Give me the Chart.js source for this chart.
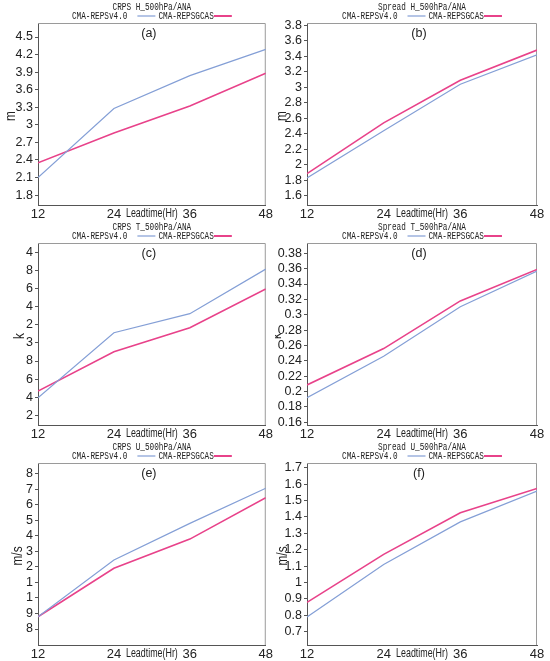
<!DOCTYPE html>
<html lang="en">
<head>
    <meta charset="UTF-8">
    <title>CRPS and Spread, 500hPa</title>
    <script src="https://cdn.jsdelivr.net/npm/chart.js"></script>
    <style>
        body { margin: 0; background: #fff; }
        #page { position: relative; width: 550px; height: 661px; background: #fff; }
        .panel { position: absolute; width: 275px; height: 220px; }
    </style>
</head>
<body>
    <div id="page">
        <div class="panel" style="left:0;top:0"><canvas id="pa"></canvas></div>
        <div class="panel" style="left:275px;top:0"><canvas id="pb"></canvas></div>
        <div class="panel" style="left:0;top:220px"><canvas id="pc"></canvas></div>
        <div class="panel" style="left:275px;top:220px"><canvas id="pd"></canvas></div>
        <div class="panel" style="left:0;top:440px"><canvas id="pe"></canvas></div>
        <div class="panel" style="left:275px;top:440px"><canvas id="pf"></canvas></div>
    </div>

    <script>
        // lead times (hours)
        const leadTimes = [12, 24, 36, 48];
        const seriesNames = ["CMA-REPSv4.0", "CMA-REPSGCAS"];

        // (a) CRPS H 500hPa
        const crpsH_v4 = [2.10, 3.28, 3.84, 4.29];
        const crpsH_gcas = [2.35, 2.86, 3.32, 3.88];
        const crpsH_ticks = [1.8, 2.1, 2.4, 2.7, 3.0, 3.3, 3.6, 3.9, 4.2, 4.5];
        const crpsH_labels = ["1.8", "2.1", "2.4", "2.7", "3", "3.3", "3.6", "3.9", "4.2", "4.5"];

        // (b) Spread H 500hPa
        const sprdH_v4 = [1.83, 2.44, 3.04, 3.42];
        const sprdH_gcas = [1.885, 2.54, 3.09, 3.48];
        const sprdH_ticks = [1.6, 1.8, 2.0, 2.2, 2.4, 2.6, 2.8, 3.0, 3.2, 3.4, 3.6, 3.8];
        const sprdH_labels = ["1.6", "1.8", "2", "2.2", "2.4", "2.6", "2.8", "3", "3.2", "3.4", "3.6", "3.8"];

        // (c) CRPS T 500hPa (values in tick units, labels as printed)
        const crpsT_v4 = [0.97, 4.56, 5.61, 8.07];
        const crpsT_gcas = [1.34, 3.51, 4.83, 6.97];
        const crpsT_ticks = [0, 1, 2, 3, 4, 5, 6, 7, 8, 9];
        const crpsT_labels = ["2", "4", "6", "8", "3", "2", "4", "6", "8", "4"];

        // (d) Spread T 500hPa
        const sprdT_v4 = [0.192, 0.246, 0.3105, 0.357];
        const sprdT_gcas = [0.2086, 0.256, 0.318, 0.359];
        const sprdT_ticks = [0.16, 0.18, 0.20, 0.22, 0.24, 0.26, 0.28, 0.30, 0.32, 0.34, 0.36, 0.38];
        const sprdT_labels = ["0.16", "0.18", "0.2", "0.22", "0.24", "0.26", "0.28", "0.3", "0.32", "0.34", "0.36", "0.38"];

        // (e) CRPS U 500hPa (values in tick units, labels as printed)
        const crpsU_v4 = [0.79, 4.44, 6.80, 9.06];
        const crpsU_gcas = [0.79, 3.91, 5.79, 8.45];
        const crpsU_ticks = [0, 1, 2, 3, 4, 5, 6, 7, 8, 9, 10];
        const crpsU_labels = ["8", "9", "1", "1", "2", "3", "4", "5", "6", "7", "8"];

        // (f) Spread U 500hPa
        const sprdU_v4 = [0.79, 1.11, 1.37, 1.558];
        const sprdU_gcas = [0.879, 1.172, 1.426, 1.574];
        const sprdU_ticks = [0.7, 0.8, 0.9, 1.0, 1.1, 1.2, 1.3, 1.4, 1.5, 1.6, 1.7];
        const sprdU_labels = ["0.7", "0.8", "0.9", "1", "1.1", "1.2", "1.3", "1.4", "1.5", "1.6", "1.7"];

        const BLUE = "#849fd6";
        const PINK = "#e8428a";
        const SANS = '"Liberation Sans", Arial, sans-serif';
        const MONO = '"Liberation Mono", "DejaVu Sans Mono", monospace';

        // squeezed text, stands in for the narrow fonts of the original
        function narrowText(ctx, text, x, y, sx) {
            ctx.save();
            ctx.translate(x, y);
            ctx.scale(sx, 1);
            ctx.fillText(text, 0, 0);
            ctx.restore();
        }

        // draws frame, titles, legend, panel letter and axis titles
        const decor = {
            id: "decor",
            beforeDatasetsDraw(chart) {
                const a = chart.chartArea, ctx = chart.ctx;
                ctx.save();
                ctx.strokeStyle = "#9a9a9a";
                ctx.lineWidth = 1;
                ctx.beginPath();
                ctx.moveTo(a.left, a.top + 0.5);
                ctx.lineTo(a.right - 0.5, a.top + 0.5);
                ctx.lineTo(a.right - 0.5, a.bottom);
                ctx.stroke();
                ctx.restore();
            },
            afterDraw(chart, args, o) {
                const a = chart.chartArea, ctx = chart.ctx;
                const cx = (a.left + a.right) / 2;
                ctx.save();
                ctx.fillStyle = "#222";
                ctx.textBaseline = "middle";

                // mono title and legend
                const sx = 0.7;
                ctx.font = "11px " + MONO;
                ctx.textAlign = "center";
                narrowText(ctx, o.title, cx, 7, sx);

                ctx.textAlign = "left";
                const w1 = ctx.measureText(seriesNames[0]).width * sx;
                const w2 = ctx.measureText(seriesNames[1]).width * sx;
                const total = w1 + 10 + 18 + 3 + w2 + 18;
                const x = cx - total / 2;
                const ly = 16;
                narrowText(ctx, seriesNames[0], x, ly, sx);
                narrowText(ctx, seriesNames[1], x + w1 + 31, ly, sx);
                ctx.lineWidth = 1.2;
                ctx.strokeStyle = BLUE;
                ctx.beginPath();
                ctx.moveTo(x + w1 + 10, ly);
                ctx.lineTo(x + w1 + 28, ly);
                ctx.stroke();
                ctx.lineWidth = 2;
                ctx.strokeStyle = PINK;
                ctx.beginPath();
                ctx.moveTo(x + w1 + 31 + w2, ly);
                ctx.lineTo(x + w1 + 31 + w2 + 18, ly);
                ctx.stroke();

                // panel letter
                ctx.font = "12.5px " + SANS;
                ctx.textAlign = "center";
                ctx.fillText(o.letter, cx - 3, a.top + 11);

                // x axis title sits between the 24 and 36 labels
                const xs = chart.scales.x;
                ctx.font = "12px " + SANS;
                narrowText(ctx, "Leadtime(Hr)", xs.getPixelForValue(30), a.bottom + 9, 0.74);

                // y axis title
                ctx.font = "14px " + SANS;
                ctx.translate(o.yTitleX, (a.top + a.bottom) / 2 + 2);
                ctx.rotate(-Math.PI / 2);
                narrowText(ctx, o.yTitle, 0, 0, 0.85);
                ctx.restore();
            }
        };

        function makeChart(id, cfg) {
            const toPts = arr => arr.map((v, i) => ({ x: leadTimes[i], y: v }));
            new Chart(document.getElementById(id), {
                type: "line",
                data: {
                    datasets: [
                        { label: seriesNames[0], data: toPts(cfg.v4), borderColor: BLUE, borderWidth: 1.2 },
                        { label: seriesNames[1], data: toPts(cfg.gcas), borderColor: PINK, borderWidth: 1.6 }
                    ]
                },
                options: {
                    responsive: true,
                    maintainAspectRatio: false,
                    animation: false,
                    events: [],
                    elements: { point: { radius: 0 }, line: { tension: 0 } },
                    layout: { padding: { left: 0, right: cfg.padRight, top: 23, bottom: 1 } },
                    plugins: {
                        legend: { display: false },
                        tooltip: { enabled: false },
                        decor: { title: cfg.title, letter: cfg.letter, yTitle: cfg.yTitle, yTitleX: cfg.yTitleX }
                    },
                    scales: {
                        x: {
                            type: "linear",
                            min: 12,
                            max: 48,
                            afterBuildTicks: s => { s.ticks = leadTimes.map(v => ({ value: v })); },
                            afterFit: s => { s.height = 14; },
                            grid: { display: false, drawTicks: false },
                            border: { display: true, color: "#555", width: 1 },
                            ticks: {
                                autoSkip: false,
                                maxRotation: 0,
                                padding: 2,
                                color: "#222",
                                font: { family: SANS, size: 13 },
                                callback: v => String(v)
                            }
                        },
                        y: {
                            min: cfg.yMin,
                            max: cfg.yMax,
                            afterBuildTicks: s => { s.ticks = cfg.ticks.map(v => ({ value: v })); },
                            afterFit: s => { s.width = cfg.axisWidth; },
                            grid: { drawOnChartArea: false, drawTicks: true, tickLength: 3, color: "#555" },
                            border: { display: true, color: "#555", width: 1 },
                            ticks: {
                                autoSkip: false,
                                padding: 2,
                                color: "#222",
                                font: { family: SANS, size: 12.5 },
                                callback: (v, i) => cfg.labels[i]
                            }
                        }
                    }
                },
                plugins: [decor]
            });
        }

        makeChart("pa", { title: "CRPS H_500hPa/ANA", letter: "(a)", yTitle: "m", yTitleX: 11,
            v4: crpsH_v4, gcas: crpsH_gcas, ticks: crpsH_ticks, labels: crpsH_labels,
            yMin: 1.63, yMax: 4.74, axisWidth: 38, padRight: 8 });
        makeChart("pb", { title: "Spread H_500hPa/ANA", letter: "(b)", yTitle: "m", yTitleX: 7,
            v4: sprdH_v4, gcas: sprdH_gcas, ticks: sprdH_ticks, labels: sprdH_labels,
            yMin: 1.48, yMax: 3.83, axisWidth: 32, padRight: 13 });
        makeChart("pc", { title: "CRPS T_500hPa/ANA", letter: "(c)", yTitle: "k", yTitleX: 20,
            v4: crpsT_v4, gcas: crpsT_gcas, ticks: crpsT_ticks, labels: crpsT_labels,
            yMin: -0.53, yMax: 9.51, axisWidth: 38, padRight: 8 });
        makeChart("pd", { title: "Spread T_500hPa/ANA", letter: "(d)", yTitle: "k", yTitleX: 2,
            v4: sprdT_v4, gcas: sprdT_gcas, ticks: sprdT_ticks, labels: sprdT_labels,
            yMin: 0.1565, yMax: 0.3934, axisWidth: 32, padRight: 13 });
        makeChart("pe", { title: "CRPS U_500hPa/ANA", letter: "(e)", yTitle: "m/s", yTitleX: 18,
            v4: crpsU_v4, gcas: crpsU_gcas, ticks: crpsU_ticks, labels: crpsU_labels,
            yMin: -1.03, yMax: 10.69, axisWidth: 38, padRight: 8 });
        makeChart("pf", { title: "Spread U_500hPa/ANA", letter: "(f)", yTitle: "m/s", yTitleX: 8,
            v4: sprdU_v4, gcas: sprdU_gcas, ticks: sprdU_ticks, labels: sprdU_labels,
            yMin: 0.619, yMax: 1.729, axisWidth: 32, padRight: 13 });
    </script>
</body>
</html>
